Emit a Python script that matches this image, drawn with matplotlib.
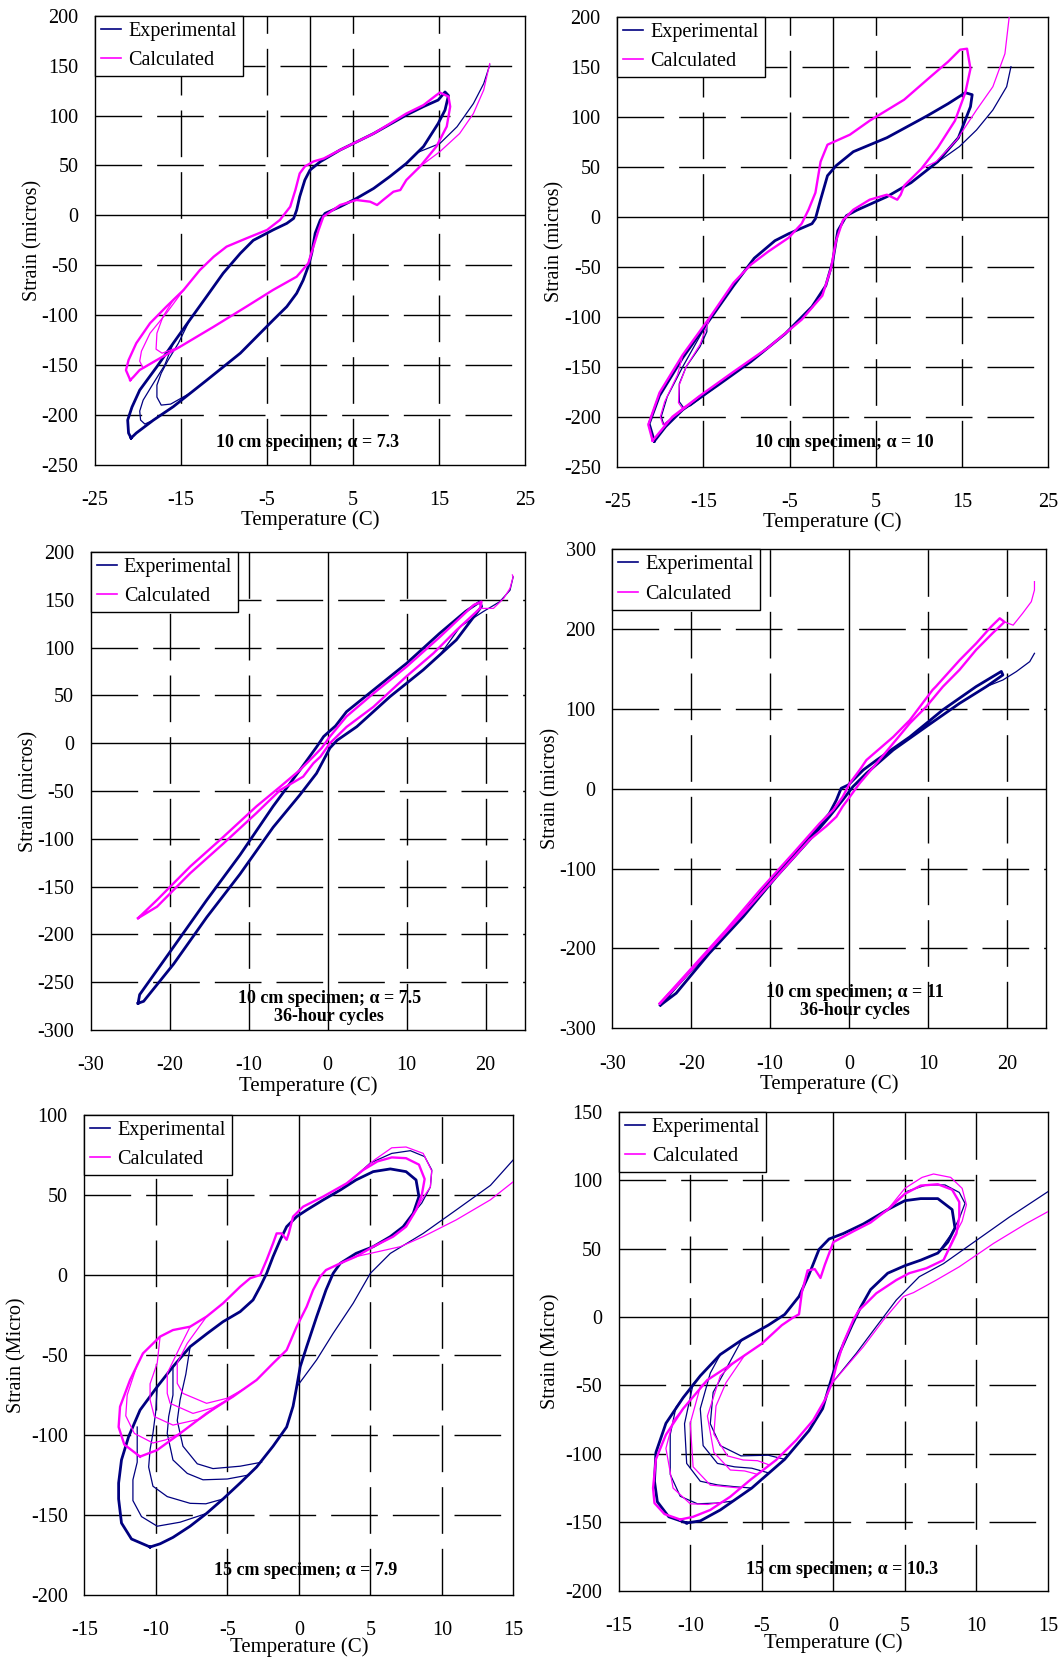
import matplotlib.pyplot as plt
from matplotlib.lines import Line2D

plt.rcParams['font.family'] = ['Liberation Serif', 'DejaVu Serif']
plt.rcParams['axes.unicode_minus'] = False
plt.rcParams['lines.solid_joinstyle'] = 'round'

NAVY = '#000080'
MAGENTA = '#ff00ff'

# ---- strain (micro) vs temperature (C), traced cycle by cycle ----

# 10 cm specimen, alpha = 7.3
exp1_outer = [(-20.8, -223), (-21.1, -218), (-21.2, -205), (-20.7, -192), (-19.8, -175), (-17.8, -151.5),
              (-15.9, -128), (-14, -105), (-12, -81), (-10.1, -58), (-8.1, -38), (-6.6, -25), (-4.3, -14.6),
              (-2.7, -8), (-1.9, -3), (-1.55, 5.4), (-1.2, 18.7), (-0.6, 35.4), (0, 45.4), (1.2, 53.8),
              (3.5, 65.5), (7.4, 82), (11.2, 100.5), (13.2, 109), (14.9, 115.5), (15.7, 123.6), (16.1, 120),
              (15.7, 105.5), (14.9, 92), (13.2, 69), (11.2, 52), (9.3, 39), (7.4, 27), (5.4, 17), (3.5, 8.7),
              (1.75, 2), (1.2, -4.6), (0.6, -18), (0.2, -38), (-0.2, -51), (-0.8, -65), (-1.55, -78),
              (-2.7, -91.4), (-4.3, -105), (-6.2, -121.5), (-8.1, -138), (-12, -165), (-15.9, -191.6),
              (-18.2, -205), (-20.2, -218), (-20.8, -223)]
exp1_mid = [(-15.9, -191.6), (-18.2, -205), (-19.2, -209), (-19.7, -205), (-19.8, -196), (-19.4, -185),
            (-18.2, -168), (-16.9, -150), (-15.9, -128)]
exp1_in = [(-14, -178.3), (-16.2, -189), (-17.3, -190), (-17.8, -182), (-17.8, -170), (-17.3, -158),
           (-16.5, -145), (-15.3, -128), (-14, -105)]
exp1_tail = [(12.5, 63), (15.1, 72), (17.1, 88.8), (19, 112), (20.2, 132), (20.9, 150.6)]
calc1_outer = [(-20.9, -165), (-21.4, -155), (-21.1, -145), (-20.2, -128), (-18.6, -108), (-16.7, -91.4),
               (-14.7, -74.7), (-12.8, -54.7), (-11.2, -41.4), (-9.7, -31.3), (-7.4, -23), (-5, -14.6),
               (-3.5, -4.6), (-2.3, 8.7), (-1.7, 25.4), (-1.2, 42), (-0.6, 49), (0.4, 54), (1.6, 57),
               (3.5, 65.5), (7.4, 82), (11.2, 102), (13.2, 110.5), (14.7, 120.5), (15.1, 123), (16.1, 119),
               (16.3, 109), (15.9, 89), (14.7, 69), (12.8, 49), (11.2, 35.4), (10.5, 25.4), (9.7, 23.7),
               (8.5, 15.4), (7.8, 10.4), (7, 13.7), (5.4, 15.4), (3.5, 10.4), (1.55, -1.3), (1, -14.6),
               (0.4, -31.3), (-0.2, -48), (-1.55, -61.4), (-4.3, -74.7), (-7.4, -91.4), (-11.2, -111.5),
               (-15.1, -131.5), (-17.8, -144.8), (-19.8, -154.8), (-20.5, -161.5), (-20.9, -165)]
calc1_mid = [(-17.8, -144.8), (-19.4, -153), (-19.8, -146), (-19.6, -136), (-18.6, -118), (-16.7, -98),
             (-14.7, -74.7)]
calc1_in = [(-15.1, -131.5), (-17.2, -138), (-17.9, -134), (-17.8, -118), (-17.1, -101.4), (-15.9, -84.8),
            (-14.7, -74.7)]
calc1_tail = [(12.8, 49), (15.1, 63.8), (17.4, 82), (19, 102), (20.2, 125.6), (20.9, 152)]

# 10 cm specimen, alpha = 10
exp2_outer = [(-20.7, -224.5), (-21.3, -207), (-20.1, -179), (-17.4, -141), (-14.6, -107), (-11.5, -69),
              (-9.1, -41.5), (-6.7, -24), (-5.1, -17), (-2.4, -7), (-2, -2), (-1.4, 17), (-0.6, 41),
              (0.4, 51), (2.4, 65), (6.3, 79), (11, 101), (13.4, 113), (15.4, 124), (16.2, 122), (16, 110),
              (14.6, 79), (12.2, 55), (9.1, 34), (6.3, 20), (2.8, 6.5), (1.6, 1), (0.6, -14), (0, -45),
              (-0.8, -69), (-2.4, -90), (-5.5, -117), (-9.5, -145), (-13.4, -169), (-17.4, -193),
              (-19.4, -210), (-20.7, -224.5)]
exp2_mid = [(-17.4, -193), (-19.2, -205), (-19.6, -208), (-19.9, -200), (-19.2, -180), (-17.4, -150),
            (-14.6, -107)]
exp2_in = [(-13.4, -169), (-16.5, -189), (-17.3, -191), (-17.8, -185), (-17.8, -167), (-17, -150),
           (-15.4, -130), (-14.6, -115), (-14.6, -107)]
exp2_tail = [(11.6, 51), (14.7, 70), (16.7, 86.7), (18.6, 106.7), (20.2, 130), (20.7, 150)]
calc2_outer = [(-20.9, -224), (-21.4, -208), (-20.1, -176), (-17.4, -138), (-14.2, -100), (-11.5, -66),
               (-9.5, -48), (-7.5, -35), (-5.1, -21), (-3.6, -7), (-2.8, 7), (-2, 24), (-1.4, 55),
               (-0.6, 72), (2, 82), (4.3, 96), (8.3, 117), (11.5, 141), (13.4, 155), (14.8, 167),
               (15.6, 168), (16, 148), (15.4, 124), (14.2, 96), (12.2, 69), (10.3, 48), (8.3, 31), (7.9, 22),
               (7.5, 17), (6.3, 22), (4.3, 17), (2.4, 7), (1.2, -3.5), (0.4, -24), (-0.2, -52), (-1.2, -79),
               (-3.6, -103), (-7.5, -131), (-11.5, -155), (-15.4, -179), (-18.6, -200), (-20.9, -224)]
calc2_mid = [(-15.4, -179), (-17.5, -194), (-19.2, -205), (-19.7, -208), (-20, -200), (-19.5, -185),
             (-18, -158), (-17.4, -138)]
calc2_in = [(-15.4, -179), (-16.8, -189), (-17.5, -191), (-17.9, -186), (-17.8, -168), (-17, -150),
            (-15.4, -128), (-14.2, -100)]
calc2_tail = [(10.3, 48), (12, 55), (14.4, 76.7), (16.7, 106.7), (18.6, 130), (20, 163), (20.5, 200)]

# 10 cm specimen, alpha = 7.5, 36-hour cycles
exp3_loop = [(-24, -272), (-23.8, -263), (-19.5, -213), (-15.3, -164), (-11.1, -117), (-6.9, -66),
             (-3.5, -28), (-1.4, -4), (-0.5, 7), (-0.1, 10), (1, 18), (2.4, 33), (5.8, 55.6), (10, 83.5),
             (14.2, 115), (17.5, 138), (19.3, 148), (19.5, 143), (16.3, 108), (12.1, 76.6), (7.9, 48.7),
             (3.7, 17.3), (1.2, 3), (0.3, -5), (-1.4, -31.5), (-3.5, -54), (-6.9, -88), (-11.1, -137),
             (-15.3, -182), (-19.5, -231), (-23.3, -270), (-24, -272)]
exp3_tail = [(14.2, 92), (16.8, 122), (19.7, 137.6), (21.8, 148), (23.1, 160), (23.5, 174)]
calc3_loop = [(-24, -183), (-21.6, -164), (-17.4, -129), (-13.2, -98), (-9, -66), (-6, -45.5), (-3.5, -28),
              (-1.8, -14), (-0.75, -5), (0.3, 7), (2.4, 28), (5.8, 52), (10, 80), (14.2, 111),
              (18.5, 144.6), (19.5, 148), (19.3, 141), (16.3, 118), (13.4, 94), (10, 70), (5.8, 38),
              (2.4, 17), (0.3, 0), (-0.9, -14), (-1.8, -21), (-3.1, -35), (-6, -49), (-9, -73),
              (-13.2, -105), (-17.4, -136), (-21.6, -171), (-24, -183)]
calc3_tail = [(19.3, 141), (21, 141), (22.3, 151.5), (23.1, 162), (23.5, 174), (23.4, 176)]

# 10 cm specimen, alpha = 11, 36-hour cycles
exp4_loop = [(-23.9, -271), (-21.9, -248), (-17.7, -202), (-13.4, -156), (-9.2, -106), (-5, -60),
             (-2.5, -31), (-1.6, -14), (-1, 0.6), (-0.1, 4.8), (1.8, 23.6), (3.5, 36), (7.7, 65),
             (11.9, 99), (16.1, 128), (19.3, 147), (19.5, 142.6), (17.4, 128), (14, 107), (9.8, 78),
             (5.6, 48.6), (2.2, 19.4), (0.5, 2.7), (-0.8, -14), (-2.5, -35), (-5, -64), (-9.2, -110),
             (-13.4, -160), (-17.7, -206), (-21.9, -256), (-23.9, -271)]
exp4_tail = [(17.4, 128), (19.5, 136.3), (21.2, 146.8), (22.9, 159.3), (23.5, 169.7)]
calc4_loop = [(-24, -269), (-19.8, -223), (-15.6, -177), (-11.3, -127), (-7.1, -81), (-3.7, -43),
              (-2, -26.5), (-0.8, -10), (0.1, 7), (1.35, 23.6), (2.2, 36), (5.6, 65), (7.7, 86),
              (10.6, 124), (11, 128), (14, 161), (16.1, 182), (18, 203), (19.1, 213.6), (19.7, 209),
              (18.2, 195), (16.1, 174), (14, 149), (11.9, 128), (9.8, 103), (7.7, 82), (5.6, 57), (3.5, 32),
              (1.35, 7), (0.1, -10), (-0.8, -22), (-1.6, -35), (-2.9, -47), (-5, -64), (-9.2, -110),
              (-13.4, -156), (-17.7, -202), (-21.9, -248), (-24, -269)]
calc4_tail = [(19.7, 209), (20.8, 205), (22, 219.8), (23.1, 234.4), (23.5, 249), (23.5, 259.5)]

# 15 cm specimen, alpha = 7.9
exp5_outer = [(-10.4, -170), (-11.7, -165), (-12.4, -155), (-12.6, -140), (-12.6, -130), (-12.4, -115.6),
              (-11.9, -101), (-11.1, -84.4), (-9.9, -69.8), (-8.8, -57.3), (-7.6, -44.8), (-6.4, -36.5),
              (-5.3, -29.2), (-4.1, -22.9), (-3.2, -15.6), (-2.7, -7.3), (-2.25, 1), (-1.8, 11.5),
              (-1.3, 21.9), (-0.85, 30.2), (-0.15, 36.5), (0.55, 40.6), (1.7, 46.9), (2.9, 53.1), (4, 59.4),
              (5.2, 64.6), (6.4, 66.3), (7.5, 64.6), (8.2, 59.4), (8.4, 49), (8, 38.5), (7.3, 30.2),
              (6.4, 24), (5.2, 17.7), (4, 13.5), (2.9, 7.3), (2.4, 1), (1.9, -9.4), (1.25, -26),
              (0.55, -44.8), (0.1, -57.3), (-0.15, -70), (-0.4, -82), (-0.85, -95), (-1.8, -107),
              (-2.95, -120), (-4.1, -130), (-5.3, -140), (-6.45, -149), (-7.6, -157), (-8.8, -164),
              (-9.7, -168), (-10.4, -170)]
exp5_top = [(2.9, 53.1), (5, 70), (6.5, 76), (7.8, 77.7), (8.8, 74), (9.3, 65.6), (9.2, 55), (8.6, 45),
            (8, 38.5)]
exp5_a = [(-6.45, -149), (-8.3, -154.5), (-9.9, -157), (-11, -151), (-11.6, -141), (-11.6, -128),
          (-11.3, -117), (-11.3, -95)]
exp5_b = [(-5.3, -140), (-6.5, -143), (-7.6, -142.7), (-9.2, -138.5), (-10.2, -132), (-10.5, -120),
          (-10.4, -109), (-10.2, -99), (-10, -85), (-9.9, -69.8)]
exp5_c = [(-3.5, -125), (-5, -127.5), (-6.7, -128), (-7.8, -124), (-8.8, -115.6), (-9.2, -99),
          (-9.1, -88.5), (-8.8, -75), (-8.8, -57.3)]
exp5_d = [(-2.6, -117), (-4.1, -119.5), (-6, -121), (-7.1, -118), (-8.1, -107), (-8.5, -91), (-8.3, -78),
          (-7.9, -62), (-7.6, -44.8)]
exp5_tail = [(-0.15, -70), (1.25, -53), (2.4, -36.5), (3.8, -17.7), (5, 1), (6.4, 13.5), (8.7, 26),
             (11, 40.6), (13.4, 56), (15, 72)]
calc5_outer = [(-11.1, -113.5), (-12.2, -106), (-12.6, -95), (-12.5, -82.3), (-11.8, -65.6), (-10.9, -49),
               (-9.7, -38.5), (-8.8, -34.4), (-7.6, -32.3), (-6.45, -26), (-5.3, -17.7), (-4.1, -7.3),
               (-3.4, -2), (-2.7, 0), (-2.25, 9.4), (-1.8, 19.8), (-1.55, 26), (-1.2, 26), (-0.85, 22),
               (-0.7, 26), (-0.4, 36.5), (0.3, 42.7), (1.7, 49), (3.35, 57.3), (4.5, 65.6), (5.5, 71),
               (6.5, 73.5), (7.5, 73), (8.4, 69), (8.8, 60), (8.6, 50), (8.2, 40.6), (7.5, 30.2), (6.6, 24),
               (5.2, 17.7), (4, 11.5), (2.9, 7.3), (1.9, 3.1), (1.5, -1), (1, -9.4), (0.55, -19.8),
               (-0.15, -32.3), (-0.85, -46.9), (-1.8, -55.2), (-2.95, -65.6), (-4.6, -76), (-6.45, -86.5),
               (-8.3, -99), (-9.9, -109.4), (-11.1, -113.5)]
calc5_top = [(3.35, 57.3), (5.3, 72), (6.5, 79.5), (7.5, 80), (8.7, 76), (9.3, 65), (9.2, 55), (8.6, 47),
             (8.2, 40.6)]
calc5_a = [(-8.3, -99), (-9.3, -103), (-10.2, -105), (-11.5, -99), (-12.1, -88), (-12, -75), (-11.3, -56)]
calc5_b = [(-5.5, -81), (-6.9, -90), (-8.8, -93.8), (-10.1, -88.5), (-10.4, -78), (-10.4, -68), (-9.9, -55),
           (-9.7, -38.5)]
calc5_c = [(-4.6, -76), (-6, -83), (-7.4, -86.5), (-9, -80.2), (-9.2, -74), (-9.2, -61.5), (-8.3, -44.8),
           (-7.6, -32.3)]
calc5_d = [(-3.8, -71), (-5, -77), (-6.45, -80.2), (-8.1, -74), (-8.5, -67.7), (-8.5, -55), (-7.8, -42.7),
           (-6.45, -26)]
calc5_tail = [(4, 11.5), (7.1, 17.7), (8.7, 24), (11, 34.4), (13.4, 47), (15, 58.3)]

# 15 cm specimen, alpha = 10.3
exp6_outer = [(-10.25, -150.5), (-11.5, -146), (-12.3, -135), (-12.5, -120), (-12.4, -99), (-11.7, -77.7),
              (-10.5, -59), (-9.3, -43), (-7.9, -27.4), (-6.4, -16.8), (-4.55, -6), (-3.4, 1.85),
              (-2.4, 15), (-1.7, 31), (-1, 49.4), (-0.3, 57), (0.7, 61), (2.1, 68), (3.8, 78.5), (5, 85),
              (6.1, 86.5), (7.3, 86.5), (8.3, 78.5), (8.5, 65), (8, 54.7), (7.3, 46.7), (6.1, 41.5),
              (5, 37.5), (3.8, 32), (2.6, 20), (1.9, 7), (1.3, -6), (0.4, -27), (-0.3, -51), (-0.75, -67),
              (-1.7, -83), (-3.4, -104), (-5.7, -125), (-7.9, -141), (-9.3, -149), (-10.25, -150.5)]
exp6_top = [(3.8, 78.5), (5.2, 92), (6.5, 96.5), (7.8, 96.5), (8.8, 91), (9.2, 83), (8.8, 72), (8.2, 60),
            (7.3, 46.7)]
exp6_a = [(-7, -134.5), (-8.2, -136), (-9.5, -136.5), (-10.7, -131), (-11.4, -115), (-11.4, -86),
          (-11, -66), (-10.5, -59)]
exp6_b = [(-5.7, -125), (-6.9, -124), (-8.1, -122.7), (-9.3, -120), (-10.25, -107), (-10.4, -78),
          (-9.8, -49), (-9.3, -43)]
exp6_c = [(-4.5, -114), (-5.7, -110.5), (-6.9, -109.5), (-8.1, -107), (-9.1, -94), (-9.3, -67), (-8.6, -41),
          (-7.9, -27.4)]
exp6_d = [(-3.4, -104), (-4.55, -101), (-6.45, -101.5), (-7.9, -94), (-8.6, -78), (-8.4, -55), (-7.5, -38),
          (-6.4, -16.8)]
exp6_tail = [(-0.3, -51), (1.6, -26.6), (3, -7), (4.4, 12.4), (6, 29.4), (7.7, 39), (10, 56), (12.3, 73),
             (15, 91.6)]
calc6_outer = [(-10.7, -148), (-11.8, -144), (-12.5, -136), (-12.6, -125), (-12.4, -104), (-11.7, -86),
               (-10.5, -67), (-8.8, -46), (-6.9, -33), (-5, -19.5), (-3.6, -6), (-2.9, -1), (-2.4, 2),
               (-2.2, 18), (-1.8, 34), (-1.3, 35), (-0.9, 28.5), (-0.6, 38), (0, 54.7), (1.4, 62.6),
               (2.6, 69), (3.8, 78.5), (5, 90), (6.1, 96), (7.3, 97), (8.3, 93), (8.8, 84), (8.8, 73),
               (8.6, 61), (7.7, 41.6), (6.5, 35.6), (5.3, 32), (4.4, 27), (3, 17.3), (2.3, 10), (1.8, 5),
               (1.4, -2), (0.7, -19), (0.2, -36), (-0.1, -48.5), (-0.6, -60.7), (-1.4, -75.3), (-2.6, -90),
               (-4, -104.5), (-5.8, -119), (-7.2, -131.3), (-8.6, -141), (-9.8, -146), (-10.7, -148)]
calc6_top = [(3.8, 78.5), (5, 94), (6.2, 102), (7, 104.5), (8.2, 102), (9, 94), (9.3, 82), (9, 70),
             (8.4, 58), (7.7, 41.6)]
calc6_a = [(-7.8, -135.5), (-8.8, -137), (-10, -136.5), (-11.2, -125), (-11.7, -96), (-11.2, -76),
           (-10.5, -67)]
calc6_b = [(-6.5, -125), (-7.5, -124), (-8.6, -122.8), (-9.8, -109.5), (-10, -77.7), (-9.3, -51),
           (-8.8, -46)]
calc6_c = [(-5.3, -115), (-6.2, -112.5), (-7.2, -111.8), (-8.35, -99), (-8.8, -72.4), (-7.9, -43),
           (-6.9, -33)]
calc6_d = [(-4.5, -108), (-5.3, -105), (-6.3, -104.5), (-7.4, -101.5), (-8.35, -85.6), (-8.2, -65),
           (-7.5, -48), (-6.2, -28)]
calc6_tail = [(-0.1, -48.5), (2.1, -21.7), (3.5, -2.2), (4.9, 15), (5.6, 17.8), (7.2, 27), (8.8, 36.7),
              (11.2, 53.8), (13.5, 68.4), (15, 77)]

# ---- layout (pixel boxes: left, top, right, bottom) ----
W, H = 1063, 1659
panels = [
    dict(box=(95, 15.7, 525, 465), xlim=(-25, 25), xstep=10, ylim=(-250, 200), ystep=50,
         exp=[exp1_outer], exp_thin=[exp1_mid, exp1_in, exp1_tail],
         calc=[calc1_outer], calc_thin=[calc1_mid, calc1_in, calc1_tail],
         note='10 cm specimen; \u03b1 = 7.3', note_xy=(-0.3, -227.7),
         ylabel='Strain (micros)', ylabel_x=33, xlabel_y=520),
    dict(box=(617.3, 16.7, 1048, 466.7), xlim=(-25, 25), xstep=10, ylim=(-250, 200), ystep=50,
         exp=[exp2_outer], exp_thin=[exp2_mid, exp2_in, exp2_tail],
         calc=[calc2_outer], calc_thin=[calc2_mid, calc2_in, calc2_tail],
         note='10 cm specimen; \u03b1 = 10', note_xy=(1.4, -226),
         ylabel='Strain (micros)', ylabel_x=555, xlabel_y=522),
    dict(box=(90.7, 552, 525, 1030), xlim=(-30, 25), xstep=10, ylim=(-300, 200), ystep=50,
         exp=[exp3_loop], exp_thin=[exp3_tail],
         calc=[calc3_loop], calc_thin=[calc3_tail],
         note='10 cm specimen; \u03b1 = 7.5\n36-hour cycles', note_xy=(0.2, -276.7),
         ylabel='Strain (micros)', ylabel_x=29, xlabel_y=1086),
    dict(box=(612.3, 549.3, 1046.3, 1028.3), xlim=(-30, 25), xstep=10, ylim=(-300, 300), ystep=100,
         exp=[exp4_loop], exp_thin=[exp4_tail],
         calc=[calc4_loop], calc_thin=[calc4_tail],
         note='10 cm specimen; \u03b1 = 11\n36-hour cycles', note_xy=(0.8, -266),
         ylabel='Strain (micros)', ylabel_x=551, xlabel_y=1084),
    dict(box=(84.3, 1115, 513.3, 1595), xlim=(-15, 15), xstep=5, ylim=(-200, 100), ystep=50,
         exp=[exp5_outer], exp_thin=[exp5_top, exp5_a, exp5_b, exp5_c, exp5_d, exp5_tail],
         calc=[calc5_outer], calc_thin=[calc5_top, calc5_a, calc5_b, calc5_c, calc5_d, calc5_tail],
         note='15 cm specimen; \u03b1 = 7.9', note_xy=(0.5, -184.4),
         ylabel='Strain (Micro)', ylabel_x=17, xlabel_y=1647),
    dict(box=(618.7, 1111.7, 1048, 1590.7), xlim=(-15, 15), xstep=5, ylim=(-200, 150), ystep=50,
         exp=[exp6_outer], exp_thin=[exp6_top, exp6_a, exp6_b, exp6_c, exp6_d, exp6_tail],
         calc=[calc6_outer], calc_thin=[calc6_top, calc6_a, calc6_b, calc6_c, calc6_d, calc6_tail],
         note='15 cm specimen; \u03b1 = 10.3', note_xy=(0.6, -184.4),
         ylabel='Strain (Micro)', ylabel_x=551, xlabel_y=1643),
]

GRID_DASH = (0, (33.6, 10.8))

fig = plt.figure(figsize=(W / 100, H / 100), dpi=100)


def draw(ax, curve, color, lw):
    t, s = zip(*curve)
    ax.plot(t, s, color=color, lw=lw, zorder=3)


for p in panels:
    l, t, r, b = p['box']
    ax = fig.add_axes([l / W, 1 - b / H, (r - l) / W, (b - t) / H])
    x0, x1 = p['xlim']
    y0, y1 = p['ylim']
    ax.set_xlim(x0, x1)
    ax.set_ylim(y0, y1)

    xticks = list(range(x0, x1 + 1, p['xstep']))
    yticks = list(range(y0, y1 + 1, p['ystep']))
    ax.set_xticks(xticks)
    ax.set_yticks(yticks)
    ax.tick_params(length=0, labelsize=14.5)
    ax.tick_params(axis='x', pad=19)
    ax.tick_params(axis='y', pad=12)
    for sp in ax.spines.values():
        sp.set_linewidth(1.0)
        sp.set_color('black')

    # dashed grid, solid zero axes
    for x in xticks:
        if x0 < x < x1 and x != 0:
            ax.axvline(x, color='black', lw=1.0, linestyle=GRID_DASH, zorder=1)
    for y in yticks:
        if y0 < y < y1 and y != 0:
            ax.axhline(y, color='black', lw=1.0, linestyle=GRID_DASH, zorder=1)
    ax.axvline(0, color='black', lw=1.0, zorder=1)
    ax.axhline(0, color='black', lw=1.0, zorder=1)

    for c in p['exp']:
        draw(ax, c, NAVY, 2.0)
    for c in p['exp_thin']:
        draw(ax, c, NAVY, 0.9)
    for c in p['calc']:
        draw(ax, c, MAGENTA, 1.7)
    for c in p['calc_thin']:
        draw(ax, c, MAGENTA, 0.9)

    ax.text(p['note_xy'][0], p['note_xy'][1], p['note'], ha='center', va='center',
            fontsize=13, fontweight='bold', linespacing=1.1, zorder=4)

    handles = [Line2D([], [], color=NAVY, lw=1.2), Line2D([], [], color=MAGENTA, lw=1.2)]
    leg = ax.legend(handles, ['Experimental', 'Calculated'], loc='upper left', bbox_to_anchor=(0, 1),
                    borderaxespad=0, fancybox=False, edgecolor='black', framealpha=1, fontsize=14.5,
                    handlelength=1.0, handletextpad=0.35, borderpad=0.3, labelspacing=0.5)
    leg.get_frame().set_linewidth(1.0)
    leg.set_zorder(5)

    fig.text(((l + r) / 2) / W, 1 - p['xlabel_y'] / H, 'Temperature (C)', ha='center', va='center',
             fontsize=15)
    fig.text(p['ylabel_x'] / W, 1 - ((t + b) / 2) / H, p['ylabel'], ha='center', va='center',
             rotation=90, fontsize=14.5)

fig.savefig('out.png', dpi=100)
